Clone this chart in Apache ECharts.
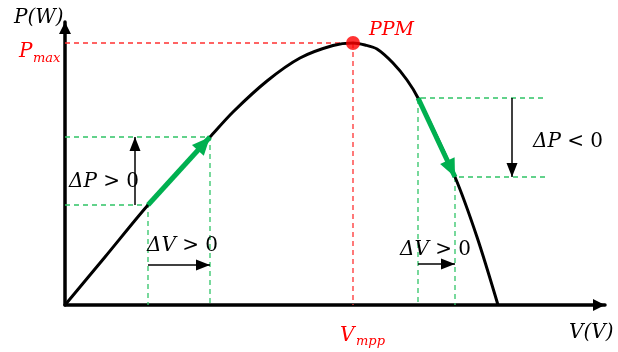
<!DOCTYPE html>
<html>
<head>
<meta charset="utf-8">
<script src="https://cdn.jsdelivr.net/npm/echarts@6/dist/echarts.min.js"></script>
<style>
  html, body { margin: 0; padding: 0; background: #fff; }
  #chart { width: 618px; height: 352px; }
</style>
</head>
<body>
<div id="chart"></div>
<script>
// P–V characteristic of a PV module (arbitrary units)
const curveV = [0, 40, 83, 145, 168, 202, 235, 268, 288, 300, 312, 328, 342, 353, 390, 412, 433];
const curveP = [0, 48, 100, 168, 193, 224, 247, 259.5, 262, 260, 256, 242, 225, 207, 128, 68, 0];

// Maximum power point
const mppV = 288;
const mppP = 262;

// Perturbation steps on each side of the MPP: [V start, V end], [P start, P end]
const leftStepV = [83, 145];
const leftStepP = [100, 168];
const rightStepV = [353, 390];
const rightStepP = [207, 128];

// Guide extents and indicator arrows
const rightGuideEnd = [478, 480];
const dPleftV = 70;
const dPrightV = 447;
const dVleftP = 40;
const dVrightP = 41;

const axisMaxV = 540;
const axisMaxP = 283;

const chart = echarts.init(document.getElementById('chart'));
const serif = '"DejaVu Serif", "Liberation Serif", serif';
const RED = '#ff0000';
const GREEN = '#00b050';
const GREEN_D = '#2fc466';

// Triangle head whose tip sits at the centre of the symbol box,
// so the head ends exactly on the line end point.
const HEAD = 'path://M0,0L0.01,0M0,20L10,40L-10,40Z';

const greenGuides = [
  [[0, leftStepP[1]], [leftStepV[1], leftStepP[1]], [leftStepV[1], 0]],
  [[0, leftStepP[0]], [leftStepV[0], leftStepP[0]], [leftStepV[0], 0]],
  [[rightGuideEnd[0], rightStepP[0]], [rightStepV[0], rightStepP[0]], [rightStepV[0], 0]],
  [[rightGuideEnd[1], rightStepP[1]], [rightStepV[1], rightStepP[1]], [rightStepV[1], 0]]
];

const series = [];

greenGuides.forEach(g => series.push({
  type: 'line', data: g, symbol: 'none', silent: true, z: 1,
  lineStyle: { color: GREEN_D, width: 1.3, type: [5, 4] }
}));

series.push({
  type: 'line', data: [[0, mppP], [mppV, mppP], [mppV, 0]], symbol: 'none', z: 1,
  lineStyle: { color: '#ff3030', width: 1.3, type: [5, 4] }
});

series.push({
  type: 'line', smooth: 0.3, symbol: 'none', z: 3,
  data: curveV.map((v, i) => [v, curveP[i]]),
  lineStyle: { color: '#000', width: 3 }
});

function arrow(from, to, color, width, size) {
  return [
    { coord: from, symbol: 'none' },
    { coord: to, symbol: HEAD, symbolSize: [size[0], size[1] * 2],
      lineStyle: { color: color, width: width, type: 'solid' } }
  ];
}

// Arrows: perturbation direction (green) and delta indicators (black)
series.push({
  type: 'line', data: [], z: 4,
  markLine: {
    silent: true, animation: false, label: { show: false },
    data: [
      arrow([leftStepV[0], leftStepP[0]], [leftStepV[1], leftStepP[1]], GREEN, 5, [16, 18]),
      arrow([rightStepV[0], rightStepP[0]], [rightStepV[1], rightStepP[1]], GREEN, 5, [16, 18]),
      arrow([dPleftV, leftStepP[0]], [dPleftV, leftStepP[1]], '#000', 1.5, [11, 14]),
      arrow([dPrightV, rightStepP[0]], [dPrightV, rightStepP[1]], '#000', 1.5, [11, 14]),
      arrow([leftStepV[0], dVleftP], [leftStepV[1], dVleftP], '#000', 1.5, [11, 14]),
      arrow([rightStepV[0], dVrightP], [rightStepV[1], dVrightP], '#000', 1.5, [11, 14])
    ]
  }
});

series.push({
  type: 'scatter', data: [[mppV, mppP]], symbolSize: 14, z: 6,
  itemStyle: { color: RED }
});

function txt(x, y, text, size, color) {
  return {
    type: 'text', z: 10,
    style: {
      x: x, y: y, text: text, fill: color || '#000',
      font: 'italic ' + size + 'px ' + serif,
      textAlign: 'left', textVerticalAlign: 'middle'
    }
  };
}

// Math-style label: italic variable, upright relation
function rel(x, y, variable, relation) {
  return {
    type: 'text', z: 10,
    style: {
      x: x, y: y, text: '{i|' + variable + '}{u|' + relation + '}',
      textAlign: 'left', textVerticalAlign: 'middle',
      rich: {
        i: { fontFamily: serif, fontStyle: 'italic', fontSize: 20, color: '#000' },
        u: { fontFamily: serif, fontSize: 20, color: '#000' }
      }
    }
  };
}

const axisLine = {
  show: true, onZero: false, symbol: ['none', HEAD], symbolSize: [12, 32],
  lineStyle: { color: '#000', width: 3.5 }
};

chart.setOption({
  animation: false,
  backgroundColor: '#fff',
  grid: { left: 65, right: 13, top: 22, bottom: 47 },
  xAxis: {
    type: 'value', min: 0, max: axisMaxV, axisLine: axisLine,
    axisTick: { show: false }, axisLabel: { show: false }, splitLine: { show: false }
  },
  yAxis: {
    type: 'value', min: 0, max: axisMaxP, axisLine: axisLine,
    axisTick: { show: false }, axisLabel: { show: false }, splitLine: { show: false }
  },
  series: series,
  graphic: [
    txt(14, 18, 'P(W)', 20),
    txt(19, 52, 'P', 20, RED),
    txt(33, 59, 'max', 13, RED),
    txt(369, 30, 'PPM', 19, RED),
    rel(69, 182, 'ΔP', ' > 0'),
    rel(533, 142, 'ΔP', ' < 0'),
    rel(147, 246, 'ΔV', ' > 0'),
    rel(400, 250, 'ΔV', ' > 0'),
    txt(340, 336, 'V', 20, RED),
    txt(356, 342, 'mpp', 13, RED),
    txt(569, 333, 'V(V)', 20)
  ]
});
</script>
</body>
</html>
